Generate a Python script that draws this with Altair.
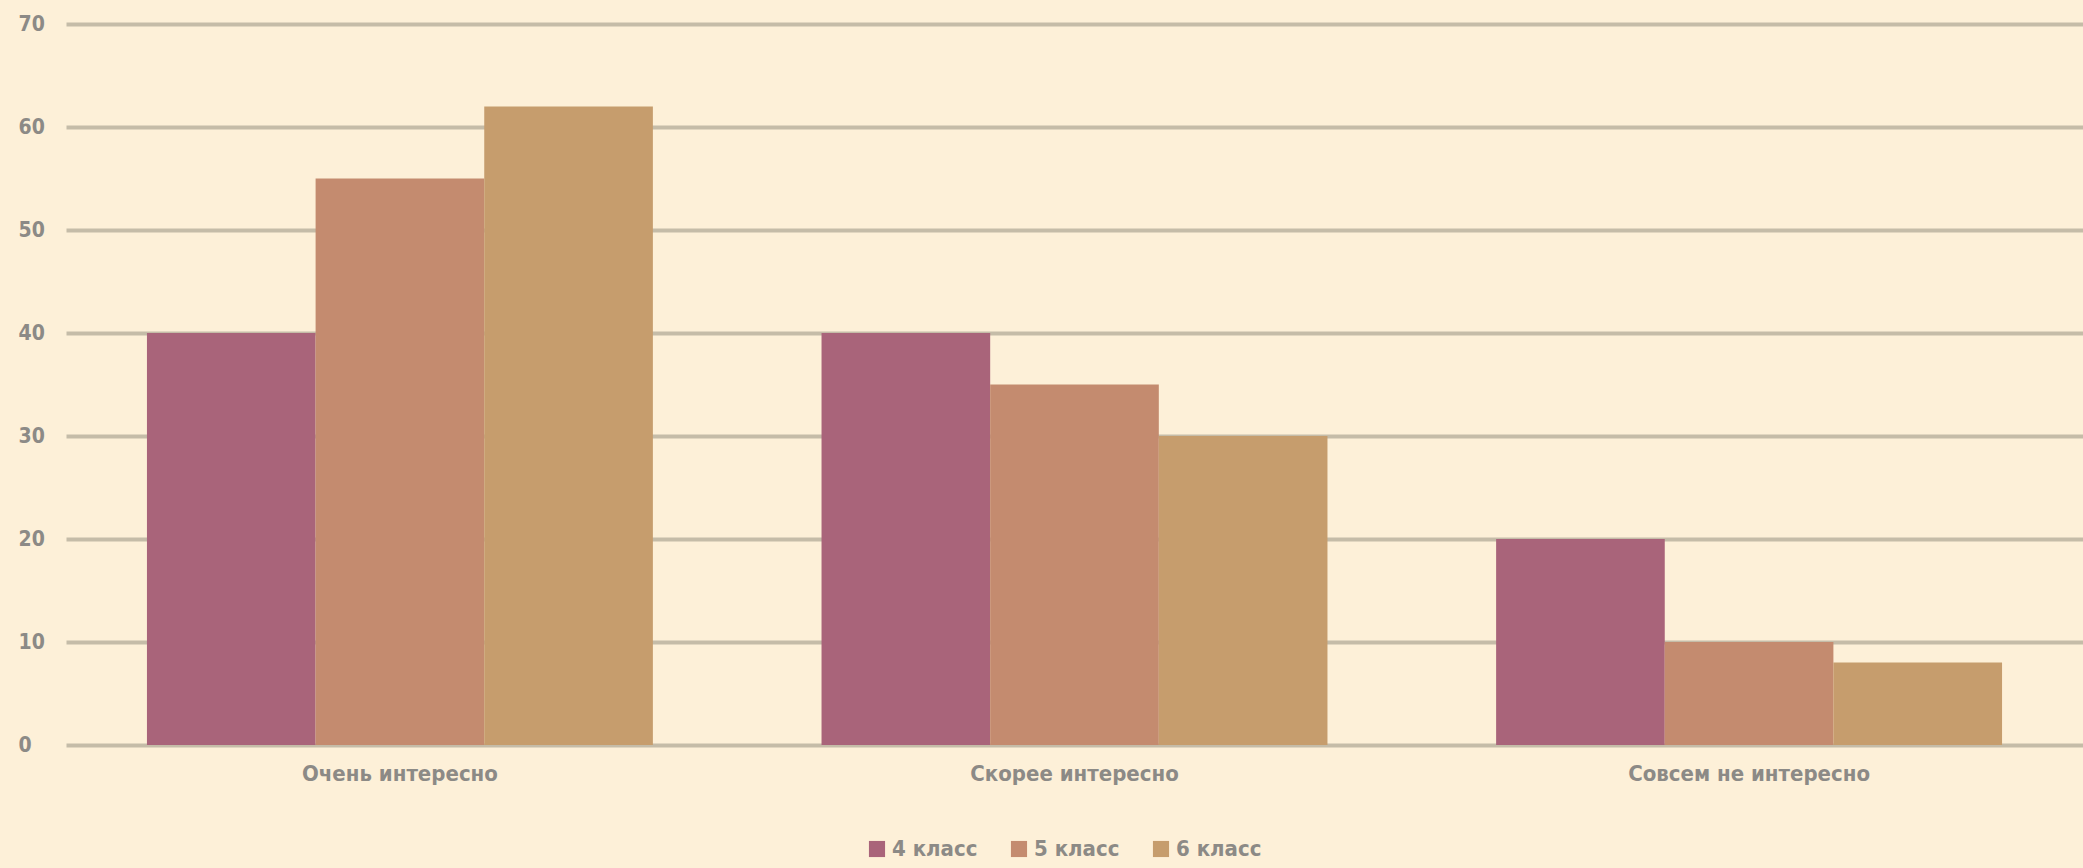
import altair as alt
import pandas as pd

categories = ["Очень интересно", "Скорее интересно", "Совсем не интересно"]
grades = ["4 класс", "5 класс", "6 класс"]
values_4 = [40, 40, 20]
values_5 = [55, 35, 10]
values_6 = [62, 30, 8]
colors = ["#a9647a", "#c48b6f", "#c69d6d"]
y_ticks = [0, 10, 20, 30, 40, 50, 60, 70]

rows = []
for g, vals in zip(grades, [values_4, values_5, values_6]):
    for c, v in zip(categories, vals):
        rows.append({"cat": c, "grade": g, "value": v})
df = pd.DataFrame(rows)

FONT = "DejaVu Sans Condensed"
LABEL_COLOR = "#8c8a86"

chart = alt.Chart(df).mark_bar().encode(
    x=alt.X("cat:N", sort=categories,
            scale=alt.Scale(paddingInner=0.25, paddingOuter=0.12),
            axis=alt.Axis(title=None, labelAngle=0, domain=False, ticks=False,
                          labelFont=FONT, labelFontSize=22, labelFontWeight="bold",
                          labelColor=LABEL_COLOR, labelPadding=18, labelLimit=0)),
    xOffset=alt.XOffset("grade:N", sort=grades,
                        scale=alt.Scale(paddingInner=0, paddingOuter=0)),
    y=alt.Y("value:Q", scale=alt.Scale(domain=[0, 70], nice=False),
            axis=alt.Axis(values=y_ticks, title=None, domain=False, ticks=False,
                          labelAlign="left", labelPadding=48,
                          labelFont=FONT, labelFontSize=21, labelFontWeight="bold",
                          labelColor=LABEL_COLOR,
                          gridColor="#c5bca8", gridWidth=4, gridOpacity=1)),
    color=alt.Color("grade:N", sort=grades,
                    scale=alt.Scale(domain=grades, range=colors),
                    legend=alt.Legend(orient="none", legendX=800, legendY=814,
                                      title=None, direction="horizontal",
                                      symbolType="square", symbolSize=260,
                                      symbolStrokeWidth=0, columnPadding=30,
                                      labelFont=FONT, labelFontSize=22, labelFontWeight="bold",
                                      labelColor=LABEL_COLOR, labelOffset=4, labelLimit=0)),
).properties(
    width=2017, height=721,
    autosize=alt.AutoSizeParams(type="none"),
    padding={"left": 66, "top": 24, "right": 0, "bottom": 123},
    background="#fdf0d8",
).configure_view(stroke=None)

chart.save("out.html", embed_options={"renderer": "svg", "actions": False})
